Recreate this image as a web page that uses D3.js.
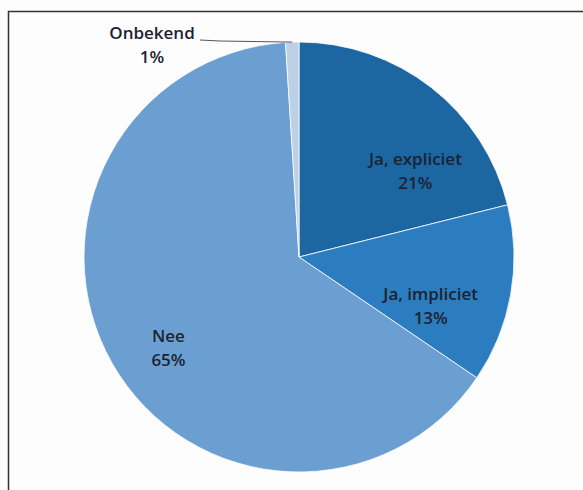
<!DOCTYPE html>
<html>
<head>
<meta charset="utf-8">
<script src="https://cdn.jsdelivr.net/npm/d3@7/dist/d3.min.js"></script>
<style>
  body { margin: 0; background: #fdfdfd; }
  text { font-family: "Open Sans", "Liberation Sans", sans-serif; font-size: 17px; font-weight: 600; fill: #1c2330; }
</style>
</head>
<body>
<div id="chart"></div>
<script>
// data
var categories = ["Ja, expliciet", "Ja, impliciet", "Nee", "Onbekend"];
var values = [21.1, 13.4, 64.5, 1.0];
var pctLabels = ["21%", "13%", "65%", "1%"];
var colors = ["#1c66a2", "#2b7dbf", "#6c9fd1", "#bcd0e6"];

var width = 583, height = 490;
var cx = 299, cy = 257, radius = 215;

var svg = d3.select("#chart").append("svg")
    .attr("width", width)
    .attr("height", height);

// frame (only top and left edges visible)
svg.append("path")
    .attr("d", "M8.5,490 L8.5,11.5 L583,11.5")
    .attr("fill", "none")
    .attr("stroke", "#333")
    .attr("stroke-width", 1.5);

var g = svg.append("g").attr("transform", "translate(" + cx + "," + cy + ")");

var pie = d3.pie().sort(null).value(function(d) { return d; });
var arcs = pie(values);

var arc = d3.arc().innerRadius(0).outerRadius(radius);

g.selectAll("path.slice")
  .data(arcs)
  .enter().append("path")
    .attr("class", "slice")
    .attr("d", arc)
    .attr("fill", function(d, i) { return colors[i]; })
    .attr("stroke", "#fdfdfd")
    .attr("stroke-width", 0.8);

// inner labels, excel puts them a bit off the mid angle
var labelR = [146, 140, 158];
var angleShift = [0.26, 0.17, -0.08];
arcs.slice(0, 3).forEach(function(d, i) {
  var a = (d.startAngle + d.endAngle) / 2 + angleShift[i];
  var x = Math.sin(a) * labelR[i], y = -Math.cos(a) * labelR[i];
  var t = g.append("text").attr("text-anchor", "middle");
  t.append("tspan").attr("x", x).attr("y", y - 4).text(categories[i]);
  t.append("tspan").attr("x", x).attr("y", y + 20).text(pctLabels[i]);
});

// Onbekend: outside label with leader line
var last = arcs[3];
var mid = (last.startAngle + last.endAngle) / 2;
var px = Math.sin(mid) * radius, py = -Math.cos(mid) * radius;
var lx = -99, ly = -217;
g.append("path")
    .attr("d", "M" + px + "," + py + " L" + (lx + 20) + "," + (ly + 1) + " L" + lx + "," + ly)
    .attr("fill", "none")
    .attr("stroke", "#555")
    .attr("stroke-width", 1);
var t = g.append("text").attr("text-anchor", "middle");
t.append("tspan").attr("x", lx - 48).attr("y", ly - 1).text(categories[3]);
t.append("tspan").attr("x", lx - 48).attr("y", ly + 23).text(pctLabels[3]);
</script>
</body>
</html>
